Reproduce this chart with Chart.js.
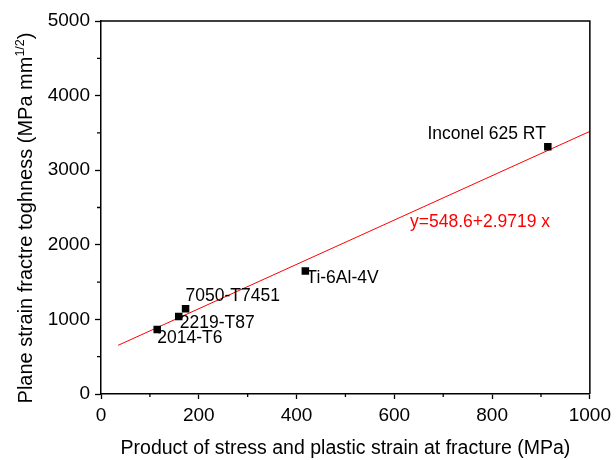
<!DOCTYPE html>
<html>
<head>
<meta charset="utf-8">
<script src="https://cdn.jsdelivr.net/npm/chart.js@4.4.1/dist/chart.umd.min.js"></script>
<style>
    html, body { margin: 0; padding: 0; background: #fff; }
    #wrap { width: 616px; height: 460px; }
</style>
</head>
<body>
<div id="wrap"><canvas id="fracture"></canvas></div>
<script>
// Materials and measured values
const alloys = ['2014-T6', '2219-T87', '7050-T7451', 'Ti-6Al-4V', 'Inconel 625 RT'];
const stressStrainProduct = [115, 159, 173, 418, 914];   // MPa
const toughness = [866, 1040, 1144, 1648, 3313];          // MPa mm^1/2

// Linear fit  y = a + b x
const fitIntercept = 548.6;
const fitSlope = 2.9719;
const fitRange = [35, 1000];

const xTickValues = [0, 200, 400, 600, 800, 1000];
const yTickValues = [0, 1000, 2000, 3000, 4000, 5000];
const xMinorValues = [100, 300, 500, 700, 900];
const yMinorValues = [500, 1500, 2500, 3500, 4500];

// label placement next to each point (pixel offsets)
const labelPlacement = [
    { dx: 0, dy: 14, align: 'left' },
    { dx: 1, dy: 12, align: 'left' },
    { dx: 0, dy: -8, align: 'left' },
    { dx: 1, dy: 12, align: 'left' },
    { dx: -2, dy: -8, align: 'right' }
];
const equationAnchor = { x: 632, y: 2240 };

const FONT = 'Liberation Sans, Arial, Helvetica, sans-serif';

const points = stressStrainProduct.map((x, i) => ({ x: x, y: toughness[i] }));
const fitLine = fitRange.map(x => ({ x: x, y: fitIntercept + fitSlope * x }));

const decorations = {
    id: 'decorations',
    afterDraw(chart) {
        const ctx = chart.ctx;
        const area = chart.chartArea;
        const xs = chart.scales.x, ys = chart.scales.y;
        ctx.save();

        // top and right frame
        ctx.strokeStyle = '#000';
        ctx.lineWidth = 1.5;
        ctx.beginPath();
        ctx.moveTo(area.left, area.top);
        ctx.lineTo(area.right, area.top);
        ctx.lineTo(area.right, area.bottom);
        ctx.stroke();

        // minor ticks
        ctx.lineWidth = 1.3;
        ctx.beginPath();
        xMinorValues.forEach(v => {
            const px = xs.getPixelForValue(v);
            ctx.moveTo(px, area.bottom);
            ctx.lineTo(px, area.bottom + 3);
        });
        yMinorValues.forEach(v => {
            const py = ys.getPixelForValue(v);
            ctx.moveTo(area.left - 4, py);
            ctx.lineTo(area.left, py);
        });
        ctx.stroke();

        // point labels
        ctx.fillStyle = '#000';
        ctx.font = '17.5px ' + FONT;
        ctx.textBaseline = 'alphabetic';
        alloys.forEach((name, i) => {
            const p = labelPlacement[i];
            ctx.textAlign = p.align;
            ctx.fillText(name,
                xs.getPixelForValue(stressStrainProduct[i]) + p.dx,
                ys.getPixelForValue(toughness[i]) + p.dy);
        });

        // fit equation
        ctx.fillStyle = '#ff0000';
        ctx.textAlign = 'left';
        ctx.fillText('y=' + fitIntercept + '+' + fitSlope + ' x',
            xs.getPixelForValue(equationAnchor.x), ys.getPixelForValue(equationAnchor.y));

        // y axis title with superscript
        const main = 'Plane strain fractre toghness (MPa mm';
        const sup = '1/2';
        const tail = ')';
        const mainFont = '20px ' + FONT;
        const supFont = '12.5px ' + FONT;
        ctx.font = mainFont;
        const wMain = ctx.measureText(main).width;
        const wTail = ctx.measureText(tail).width;
        ctx.font = supFont;
        const wSup = ctx.measureText(sup).width;
        const total = wMain + wSup + wTail;
        ctx.translate(32, 218);
        ctx.rotate(-Math.PI / 2);
        ctx.fillStyle = '#000';
        ctx.textAlign = 'left';
        let cx = -total / 2;
        ctx.font = mainFont;
        ctx.fillText(main, cx, 0);
        cx += wMain;
        ctx.font = supFont;
        ctx.fillText(sup, cx, -8);
        cx += wSup;
        ctx.font = mainFont;
        ctx.fillText(tail, cx, 0);

        ctx.restore();
    }
};

new Chart(document.getElementById('fracture'), {
    type: 'scatter',
    data: {
        datasets: [
            {
                label: 'data',
                data: points,
                pointStyle: 'rect',
                pointRadius: 5.3,
                pointHoverRadius: 5.3,
                backgroundColor: '#000',
                borderColor: '#000',
                borderWidth: 0
            },
            {
                label: 'fit',
                data: fitLine,
                showLine: true,
                pointRadius: 0,
                borderColor: '#ff0000',
                borderWidth: 1,
                fill: false
            }
        ]
    },
    options: {
        responsive: true,
        maintainAspectRatio: false,
        animation: false,
        layout: { padding: { top: 21, right: 23, left: 0, bottom: 0 } },
        plugins: {
            legend: { display: false },
            tooltip: { enabled: false }
        },
        scales: {
            x: {
                type: 'linear',
                min: 0,
                max: 1000,
                afterBuildTicks: s => { s.ticks = xTickValues.map(v => ({ value: v })); },
                afterFit: s => { s.height = 66; },
                ticks: {
                    color: '#000',
                    font: { family: FONT, size: 19 },
                    padding: 5,
                    maxRotation: 0,
                    callback: v => String(v)
                },
                grid: {
                    drawOnChartArea: false,
                    drawTicks: true,
                    tickLength: 5,
                    tickColor: '#000',
                    tickWidth: 1.3
                },
                border: { display: true, color: '#000', width: 1.5 },
                title: {
                    display: true,
                    text: 'Product of stress and plastic strain at fracture (MPa)',
                    color: '#000',
                    font: { family: FONT, size: 19.5 },
                    padding: { top: 0, bottom: 0 }
                }
            },
            y: {
                type: 'linear',
                min: 0,
                max: 5000,
                afterBuildTicks: s => { s.ticks = yTickValues.map(v => ({ value: v })); },
                afterFit: s => { s.width = 101; },
                ticks: {
                    color: '#000',
                    font: { family: FONT, size: 19 },
                    padding: 5,
                    callback: v => String(v)
                },
                grid: {
                    drawOnChartArea: false,
                    drawTicks: true,
                    tickLength: 6,
                    tickColor: '#000',
                    tickWidth: 1.3
                },
                border: { display: true, color: '#000', width: 1.5 }
            }
        }
    },
    plugins: [decorations]
});
</script>
</body>
</html>
